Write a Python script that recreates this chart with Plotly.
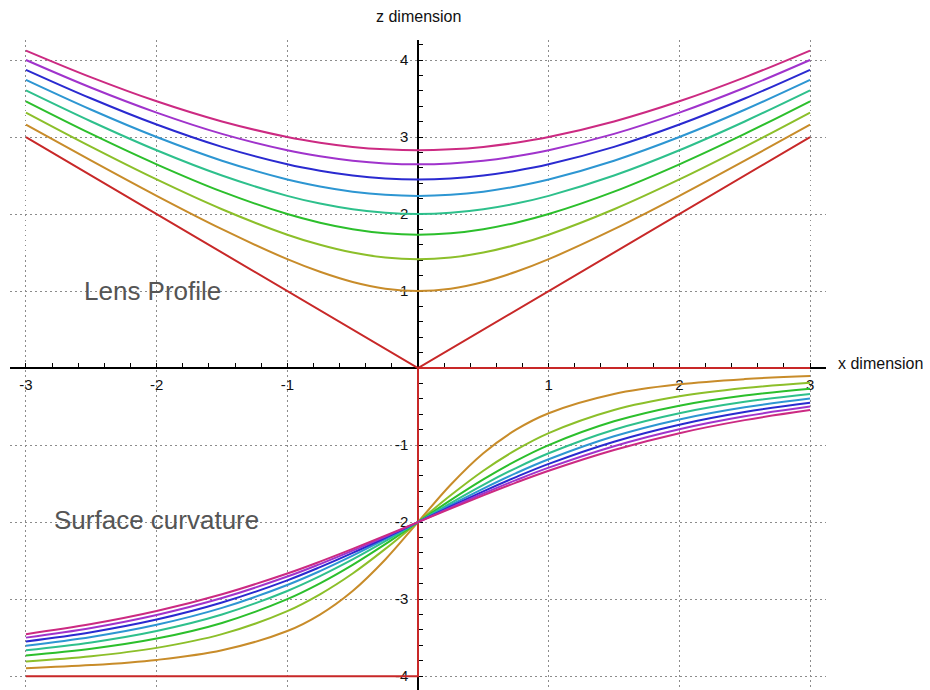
import numpy as np
import plotly.graph_objects as go

# Sample positions along the x dimension
x = [-3, -2.5, -2, -1.5, -1, -0.75, -0.5, -0.25, 0, 0.25, 0.5, 0.75, 1, 1.5, 2, 2.5, 3]

# Lens profile family (upper half)
lens_1 = [3.162, 2.693, 2.236, 1.803, 1.414, 1.250, 1.118, 1.031, 1.000, 1.031, 1.118, 1.250, 1.414, 1.803, 2.236, 2.693, 3.162]
lens_2 = [3.317, 2.872, 2.449, 2.062, 1.732, 1.601, 1.500, 1.436, 1.414, 1.436, 1.500, 1.601, 1.732, 2.062, 2.449, 2.872, 3.317]
lens_3 = [3.464, 3.041, 2.646, 2.291, 2.000, 1.888, 1.803, 1.750, 1.732, 1.750, 1.803, 1.888, 2.000, 2.291, 2.646, 3.041, 3.464]
lens_4 = [3.606, 3.202, 2.828, 2.500, 2.236, 2.136, 2.062, 2.016, 2.000, 2.016, 2.062, 2.136, 2.236, 2.500, 2.828, 3.202, 3.606]
lens_5 = [3.742, 3.354, 3.000, 2.693, 2.449, 2.358, 2.291, 2.250, 2.236, 2.250, 2.291, 2.358, 2.449, 2.693, 3.000, 3.354, 3.742]
lens_6 = [3.873, 3.500, 3.162, 2.872, 2.646, 2.562, 2.500, 2.462, 2.449, 2.462, 2.500, 2.562, 2.646, 2.872, 3.162, 3.500, 3.873]
lens_7 = [4.000, 3.640, 3.317, 3.041, 2.828, 2.750, 2.693, 2.658, 2.646, 2.658, 2.693, 2.750, 2.828, 3.041, 3.317, 3.640, 4.000]
lens_8 = [4.123, 3.775, 3.464, 3.202, 3.000, 2.926, 2.872, 2.840, 2.828, 2.840, 2.872, 2.926, 3.000, 3.202, 3.464, 3.775, 4.123]

# Surface curvature family (lower half)
curv_1 = [-3.897, -3.857, -3.789, -3.664, -3.414, -3.200, -2.894, -2.485, -2.000, -1.515, -1.106, -0.800, -0.586, -0.336, -0.211, -0.143, -0.103]
curv_2 = [-3.809, -3.741, -3.633, -3.455, -3.155, -2.937, -2.667, -2.348, -2.000, -1.652, -1.333, -1.063, -0.845, -0.545, -0.367, -0.259, -0.191]
curv_3 = [-3.732, -3.644, -3.512, -3.309, -3.000, -2.795, -2.555, -2.286, -2.000, -1.714, -1.445, -1.205, -1.000, -0.691, -0.488, -0.356, -0.268]
curv_4 = [-3.664, -3.562, -3.414, -3.200, -2.894, -2.702, -2.485, -2.248, -2.000, -1.752, -1.515, -1.298, -1.106, -0.800, -0.586, -0.438, -0.336]
curv_5 = [-3.604, -3.491, -3.333, -3.114, -2.816, -2.636, -2.436, -2.222, -2.000, -1.778, -1.564, -1.364, -1.184, -0.886, -0.667, -0.509, -0.396]
curv_6 = [-3.549, -3.429, -3.265, -3.044, -2.756, -2.585, -2.400, -2.203, -2.000, -1.797, -1.600, -1.415, -1.244, -0.956, -0.735, -0.571, -0.451]
curv_7 = [-3.500, -3.374, -3.206, -2.986, -2.707, -2.545, -2.371, -2.188, -2.000, -1.812, -1.629, -1.455, -1.293, -1.014, -0.794, -0.626, -0.500]
curv_8 = [-3.455, -3.324, -3.155, -2.937, -2.667, -2.513, -2.348, -2.176, -2.000, -1.824, -1.652, -1.487, -1.333, -1.063, -0.845, -0.676, -0.545]

# The degenerate (flat) member: a cone in profile, a step in curvature
cone_x = [-3, 0, 3]
cone_z = [3, 0, 3]
step_x = [-3, 0, 0, 3]
step_z = [-4, -4, 0, 0]

lens_curves = [lens_1, lens_2, lens_3, lens_4, lens_5, lens_6, lens_7, lens_8]
curv_curves = [curv_1, curv_2, curv_3, curv_4, curv_5, curv_6, curv_7, curv_8]
colors = ["#c88c2a", "#8cbf2a", "#2cbf2c", "#2ec08c", "#2d96d2", "#2a2ad0", "#a033cc", "#cc2a82"]
red = "#c82828"

x_ticks = [-3, -2, -1, 1, 2, 3]
z_ticks = [-4, -3, -2, -1, 1, 2, 3, 4]

x_range = [-3.122, 3.122]
z_range = [-4.18, 4.26]

fig = go.Figure()

fig.add_trace(go.Scatter(x=cone_x, y=cone_z, mode="lines",
                         line=dict(color=red, width=2), hoverinfo="skip"))
fig.add_trace(go.Scatter(x=step_x, y=step_z, mode="lines",
                         line=dict(color=red, width=2), hoverinfo="skip"))

for ys, c in zip(lens_curves, colors):
    fig.add_trace(go.Scatter(x=x, y=ys, mode="lines",
                             line=dict(color=c, width=2, shape="spline"),
                             hoverinfo="skip"))
for ys, c in zip(curv_curves, colors):
    fig.add_trace(go.Scatter(x=x, y=ys, mode="lines",
                             line=dict(color=c, width=2, shape="spline"),
                             hoverinfo="skip"))

# Axes cross at the origin
x_pos = (0 - z_range[0]) / (z_range[1] - z_range[0])
y_pos = (0 - x_range[0]) / (x_range[1] - x_range[0])

tick_font = dict(family="Liberation Sans, Arial, sans-serif", size=15, color="#111")
axis_common = dict(
    showline=True, linecolor="black", linewidth=1.5,
    ticks="inside", ticklen=4, tickwidth=1, tickcolor="black",
    showgrid=True, gridcolor="#8c8c8c", griddash="1.5px,3.5px", gridwidth=1.2,
    zeroline=False, layer="below traces", tickfont=tick_font,
    fixedrange=True,
)

fig.update_layout(
    width=930, height=690,
    margin=dict(l=10, r=104, t=40, b=0),
    paper_bgcolor="white", plot_bgcolor="white",
    showlegend=False,
    xaxis=dict(range=x_range, anchor="free", position=x_pos,
               tickmode="array", tickvals=x_ticks, ticktext=[str(v) for v in x_ticks],
               minor=dict(tickmode="array", tickvals=list(np.round(np.arange(-3.0, 3.01, 0.2), 2)),
                          ticks="inside", ticklen=4, tickcolor="black", showgrid=False),
               ticklabelstandoff=3,
               **axis_common),
    yaxis=dict(range=z_range, anchor="free", position=y_pos,
               tickmode="array", tickvals=z_ticks, ticktext=[str(v) for v in z_ticks],
               minor=dict(tickmode="array", tickvals=list(np.round(np.arange(-4.0, 4.21, 0.2), 2)),
                          ticks="inside", ticklen=4, tickcolor="black", showgrid=False),
               ticklabelstandoff=6,
               **axis_common),
)

label_font = dict(family="Liberation Sans, Arial, sans-serif", size=26, color="#555555")
title_font = dict(family="Liberation Sans, Arial, sans-serif", size=16, color="#111")

fig.add_annotation(x=-2.03, y=1.0, text="Lens Profile", showarrow=False,
                   xanchor="center", yanchor="middle", font=label_font)
fig.add_annotation(x=-2.0, y=-1.97, text="Surface curvature", showarrow=False,
                   xanchor="center", yanchor="middle", font=label_font)
fig.add_annotation(x=1, xref="paper", y=0, yref="y", text="x dimension",
                   showarrow=False, xanchor="left", yanchor="middle",
                   xshift=10, yshift=5, font=title_font)
fig.add_annotation(x=0, xref="x", y=1, yref="paper", text="z dimension",
                   showarrow=False, xanchor="center", yanchor="bottom",
                   yshift=13, font=title_font)

fig.write_html("out.html")
